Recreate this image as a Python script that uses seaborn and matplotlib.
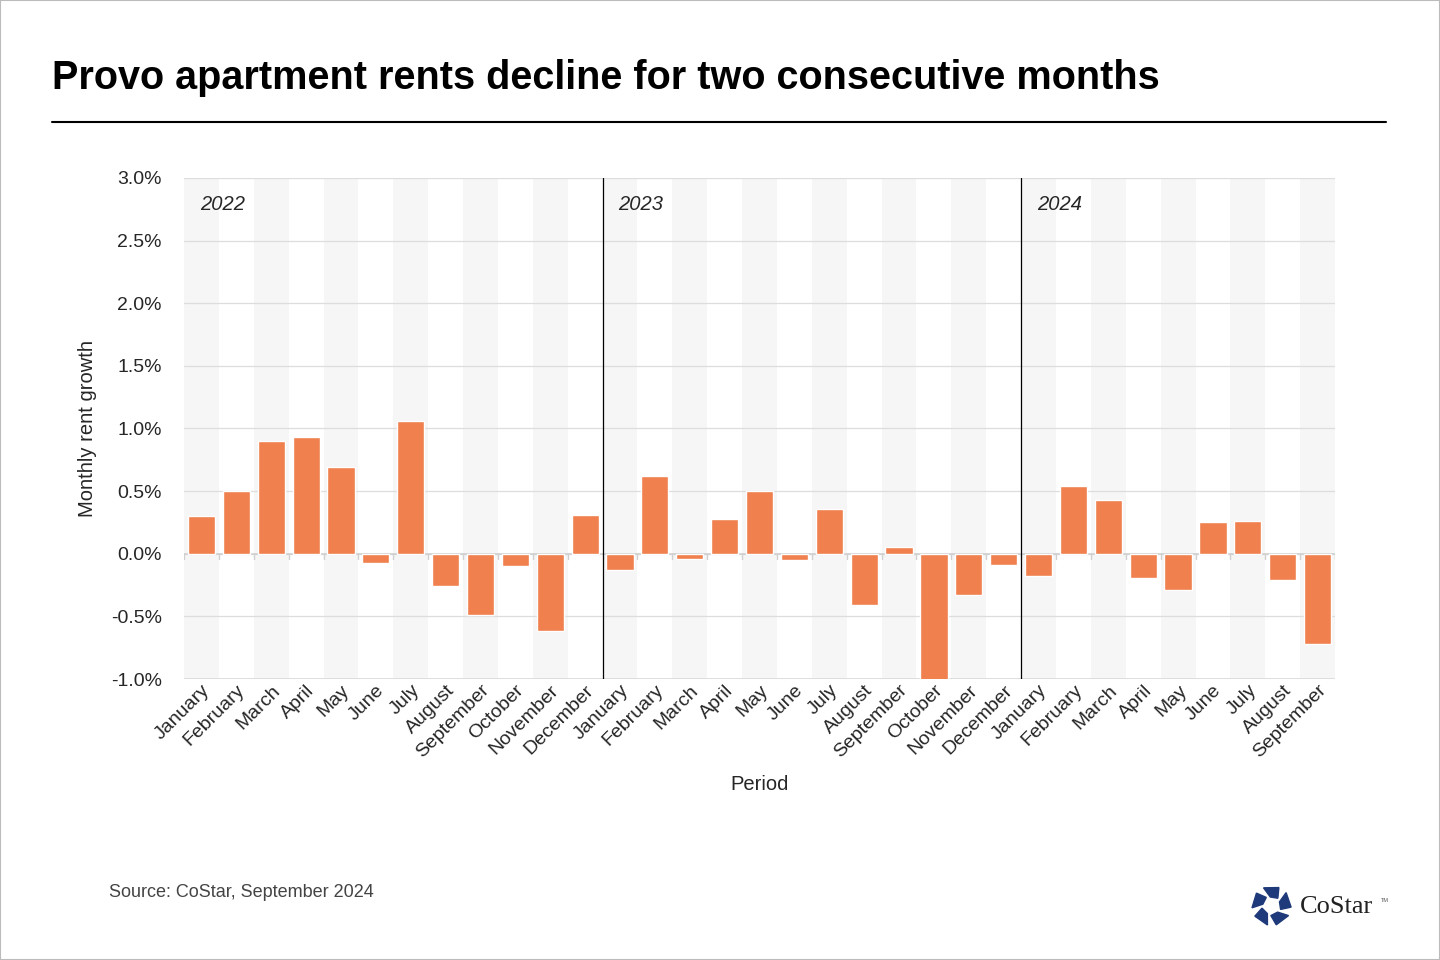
import matplotlib
matplotlib.use("Agg")
import matplotlib.pyplot as plt
import matplotlib.patches as mpatches
import numpy as np
import pandas as pd
import seaborn as sns

months = ['January', 'February', 'March', 'April', 'May', 'June', 'July',
          'August', 'September', 'October', 'November', 'December']
years = ['2022', '2023', '2024']
growth_2022 = [0.30, 0.50, 0.90, 0.93, 0.69, -0.07, 1.06, -0.26, -0.49, -0.10, -0.62, 0.31]
growth_2023 = [-0.13, 0.62, -0.04, 0.28, 0.50, -0.05, 0.36, -0.41, 0.05, -1.02, -0.33, -0.09]
growth_2024 = [-0.18, 0.54, 0.43, -0.19, -0.29, 0.25, 0.26, -0.21, -0.72]

labels = months + months + months[:9]
values = growth_2022 + growth_2023 + growth_2024
df = pd.DataFrame({'period': range(len(values)), 'label': labels, 'growth': values})

sns.set_style('white')
plt.rcParams['font.family'] = ['Liberation Sans', 'DejaVu Sans']

fig = plt.figure(figsize=(14.4, 9.6), dpi=100)
ax = fig.add_axes([0.1278, 0.2927, 0.7993, 0.5219])

# alternating background bands
for i in range(len(values)):
    if i % 2 == 0:
        ax.axvspan(i - 0.5, i + 0.5, color='#f6f6f6', zorder=0, lw=0)

sns.barplot(data=df, x='period', y='growth', color='#f0804e', saturation=1,
            width=0.78, ax=ax, zorder=3)

ax.set_ylim(-1.0, 3.0)
ax.set_xlim(-0.5, len(values) - 0.5)
ax.set_yticks(np.arange(-1.0, 3.01, 0.5))
ax.set_yticklabels([f'{v:.1f}%' for v in np.arange(-1.0, 3.01, 0.5)], fontsize=14)
for v in np.arange(-0.5, 3.01, 0.5):
    ax.axhline(v, color='#dddddd', lw=0.9, zorder=1)
ax.axhline(0, color='#d0d0d0', lw=1.2, zorder=2)
ax.axhline(-1.0, color='#d8d8d8', lw=1.2, zorder=2)
for i in range(len(values) + 1):
    ax.plot([i - 0.5, i - 0.5], [0, -0.04], color='#d0d0d0', lw=1, zorder=2)

ax.set_xticks(range(len(values)))
ax.set_xticklabels(labels, rotation=45, ha='right', rotation_mode='anchor', fontsize=14)
ax.tick_params(axis='x', length=0, pad=2)
ax.tick_params(axis='y', length=0, pad=16)
for s in ax.spines.values():
    s.set_visible(False)

ax.set_xlabel('Period', fontsize=14.5, labelpad=10)
ax.set_ylabel('Monthly rent growth', fontsize=14.5, labelpad=10)

# year separators and labels
for k, yr in enumerate(years):
    start = 12 * k
    if k > 0:
        ax.axvline(start - 0.5, color='black', lw=0.9, zorder=4)
    ax.text(start - 0.5 + 0.45, 2.79, yr, style='italic', fontsize=14.5, va='center', ha='left', zorder=5)

# title and rule
fig.text(0.036, 0.919, 'Provo apartment rents decline for two consecutive months',
         fontsize=28.5, fontweight='bold', va='center', ha='left', color='black')
fig.add_artist(plt.Line2D([0.036, 0.9625], [0.873, 0.873], color='black', lw=1.5))

fig.text(0.076, 0.07, 'Source: CoStar, September 2024', fontsize=13, color='#444444', va='center')

# logo
lax = fig.add_axes([0.868, 0.034, 0.03, 0.045])
lax.set_aspect('equal')
lax.set_xlim(-1.1, 1.1)
lax.set_ylim(-1.1, 1.1)
lax.axis('off')
for k in range(5):
    a = 90 + 72 * k
    pts = []
    for rad, ang in [(1.0, a - 22), (1.0, a + 24), (0.45, a + 8), (0.5, a - 40)]:
        t = np.deg2rad(ang)
        pts.append((rad * np.cos(t), rad * np.sin(t)))
    lax.add_patch(mpatches.Polygon(pts, closed=True, color='#1f3a7a'))
fig.text(0.903, 0.0555, 'CoStar', family=['Liberation Serif', 'DejaVu Serif'],
         fontsize=19, color='#222222', va='center')
fig.text(0.959, 0.062, 'TM', fontsize=4, color='#555555', va='center')

# border
fig.add_artist(mpatches.Rectangle((0, 0), 1, 1, transform=fig.transFigure,
                                  fill=False, ec='#bbbbbb', lw=1.5))

fig.savefig('out.png', dpi=100)
